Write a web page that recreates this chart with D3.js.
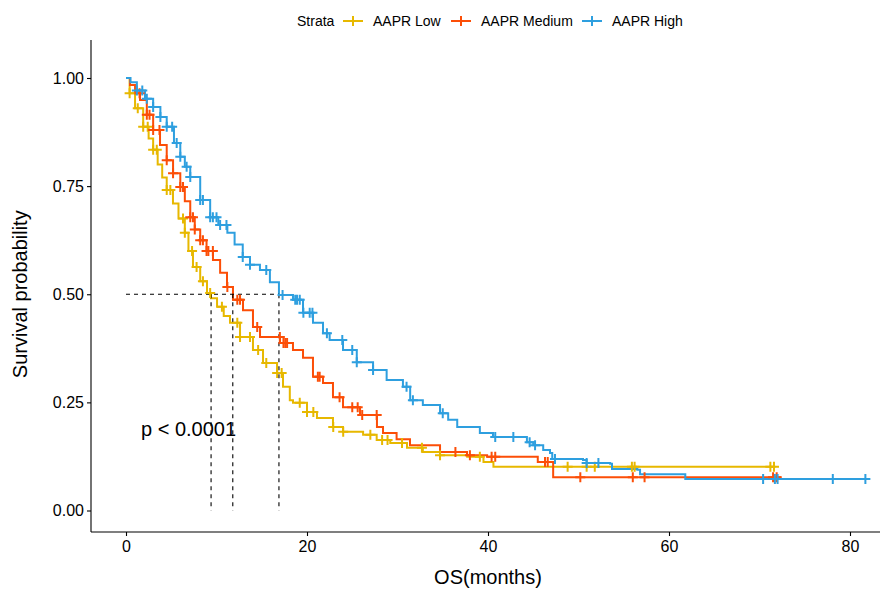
<!DOCTYPE html>
<html>
<head>
<meta charset="utf-8">
<script src="https://cdn.jsdelivr.net/npm/d3@7"></script>
<style>
  body { margin: 0; background: #fff; }
  svg { display: block; font-family: "Liberation Sans", Arial, sans-serif; }
</style>
</head>
<body>
<div id="chart"></div>
<script>
// KM curves: [time (months), survival]
var strata = ['AAPR Low', 'AAPR Medium', 'AAPR High']
var colors = ['#E7B800', '#FC4E07', '#2E9FDF']

var lowSteps = [[0,1],[0.4,0.965],[1.0,0.93],[1.9,0.887],[2.5,0.86],[3.0,0.834],[3.5,0.80],[4.0,0.77],[4.5,0.741],
  [5.19,0.71],[5.8,0.675],[6.5,0.642],[6.9,0.60],[7.4,0.563],[8.2,0.53],[8.95,0.503],[9.39,0.491],[10.06,0.471],
  [10.8,0.45],[11.49,0.434],[12.6,0.401],[14.03,0.371],[15.14,0.341],[16.69,0.318],[17.35,0.286],[18.1,0.255],[18.45,0.249],
  [20.0,0.228],[21.1,0.214],[22.87,0.193],[23.98,0.182],[26.2,0.175],[27.7,0.163],[29.2,0.156],[31.05,0.145],[32.8,0.135],
  [34.7,0.128],[37.7,0.124],[39.5,0.112],[40.6,0.101],[71.7,0.101]]
var lowCensor = [0.4,1.3,1.9,2.4,3.0,3.4,4.5,4.9,6.3,6.5,7.3,7.8,8.5,9.3,10.6,12.3,12.6,13.7,14.6,15.5,16.7,17.2,
  19.2,20.0,20.7,22.9,24.0,27.0,28.3,28.9,30.5,32.7,34.7,39.1,48.8,50.9,51.8,55.9,56.2,71.2,71.6]

var medSteps = [[0,1],[0.44,0.984],[1.0,0.965],[1.55,0.949],[2.3,0.915],[3.0,0.88],[3.76,0.845],[4.5,0.81],[5.2,0.78],
  [6.0,0.748],[6.5,0.715],[7.1,0.678],[7.6,0.65],[8.2,0.625],[8.9,0.60],[9.61,0.579],[10.4,0.55],[11.16,0.517],
  [11.82,0.487],[12.93,0.463],[14.03,0.424],[14.81,0.401],[17.02,0.387],[18.45,0.371],[19.56,0.353],[20.66,0.309],[21.77,0.295],
  [22.87,0.262],[23.98,0.239],[25.86,0.221],[27.73,0.193],[28.4,0.179],[29.9,0.165],[31.38,0.151],[34.7,0.135],[37.68,0.128],
  [39.9,0.124],[45.5,0.112],[47.2,0.077],[72.4,0.077]]
var medCensor = [1.5,2.3,2.6,3.0,3.7,4.5,5.2,6.0,6.3,7.1,7.4,7.6,8.2,8.5,8.9,9.1,9.6,11.2,12.3,12.6,14.5,17.0,17.4,17.6,17.8,
  21.2,21.4,23.6,25.0,25.6,26.1,27.7,36.4,38.0,40.4,40.8,46.3,46.6,50.2,56.0,57.3,71.5,71.9]

var highSteps = [[0,1],[0.5,0.99],[1.2,0.971],[2.1,0.952],[3.0,0.933],[3.8,0.91],[4.5,0.887],[5.3,0.85],[6.0,0.818],
  [6.5,0.795],[7.1,0.771],[8.2,0.718],[9.3,0.678],[10.2,0.66],[11.2,0.642],[12.0,0.615],[12.9,0.586],[13.7,0.568],
  [14.8,0.556],[15.9,0.528],[16.9,0.498],[18.45,0.487],[19.56,0.457],[20.66,0.434],[21.77,0.41],[22.5,0.394],[23.98,0.371],
  [25.5,0.343],[27.3,0.325],[28.8,0.302],[30.6,0.286],[31.4,0.255],[32.8,0.244],[34.7,0.225],[35.6,0.21],[36.6,0.193],
  [39.1,0.179],[40.55,0.17],[44.3,0.158],[45.0,0.151],[46.1,0.14],[46.85,0.133],[47.1,0.119],[50.5,0.117],[50.9,0.11],
  [53.5,0.108],[53.7,0.096],[56.5,0.094],[56.8,0.084],[61.8,0.073],[81.7,0.073]]
var highCensor = [1.2,1.8,2.3,3.0,3.8,4.5,5.1,5.6,6.0,6.7,7.1,8.2,8.5,9.3,9.6,10.0,10.4,11.1,12.9,13.7,15.5,17.3,18.7,18.9,
  19.2,19.6,20.3,20.6,22.2,23.9,25.0,25.5,27.3,31.0,31.7,35.0,40.8,42.8,44.6,45.2,47.4,50.9,52.2,70.4,71.7,72.0,78.1,81.7]

var medians = [9.4, 11.8, 16.9]
var xTicks = [0, 20, 40, 60, 80]
var yTicks = [0, 0.25, 0.5, 0.75, 1]
var pLabel = 'p < 0.0001'

var width = 880, height = 589
var svg = d3.select('#chart').append('svg').attr('width', width).attr('height', height)

var x = d3.scaleLinear().domain([0, 80]).range([126, 850])
var y = d3.scaleLinear().domain([0, 1]).range([510.5, 78])
var axisLeftX = 91, axisBottomY = 532

var survAt = function(steps, t) {
  var s = steps[0][1]
  steps.forEach(function(d) { if (d[0] <= t) s = d[1] })
  return s
}

// axes
var yAxis = svg.append('g').attr('transform', 'translate(' + axisLeftX + ',0)')
  .call(d3.axisLeft(y).tickValues(yTicks).tickFormat(d3.format('.2f')).tickSize(4).tickPadding(3))
var xAxis = svg.append('g').attr('transform', 'translate(0,' + axisBottomY + ')')
  .call(d3.axisBottom(x).tickValues(xTicks).tickFormat(d3.format('d')).tickSize(4).tickPadding(5))
yAxis.select('.domain').attr('d', 'M0,' + axisBottomY + 'V40')
xAxis.select('.domain').attr('d', 'M' + axisLeftX + ',0H' + width)
svg.selectAll('.tick text').attr('font-size', 16).attr('fill', '#000')
  .attr('font-family', '"Liberation Sans", Arial, sans-serif')
svg.selectAll('.domain, .tick line').attr('stroke', '#000').attr('stroke-width', 1.1)

svg.append('text').attr('x', 488).attr('y', 584).attr('text-anchor', 'middle')
  .attr('font-size', 20).text('OS(months)')
svg.append('text').attr('transform', 'translate(27,' + y(0.5) + ') rotate(-90)')
  .attr('text-anchor', 'middle').attr('font-size', 20).text('Survival probability')

// curves
var series = [lowSteps, medSteps, highSteps]
var censors = [lowCensor, medCensor, highCensor]
var line = d3.line().x(function(d) { return x(d[0]) }).y(function(d) { return y(d[1]) }).curve(d3.curveStepAfter)

series.forEach(function(steps, i) {
  svg.append('path').datum(steps).attr('d', line)
    .attr('fill', 'none').attr('stroke', colors[i]).attr('stroke-width', 2)
})

// median lines
var maxMed = d3.max(medians)
svg.append('line').attr('x1', x(0)).attr('x2', x(maxMed)).attr('y1', y(0.5)).attr('y2', y(0.5))
  .attr('stroke', '#000').attr('stroke-dasharray', '4,4').attr('stroke-width', 1.1)
svg.selectAll('.med').data(medians).enter().append('line')
  .attr('x1', function(d) { return x(d) }).attr('x2', function(d) { return x(d) })
  .attr('y1', y(0.5)).attr('y2', y(0))
  .attr('stroke', '#000').attr('stroke-dasharray', '4,4').attr('stroke-width', 1.1)

// censor marks
var plus = 'M-5,0H5M0,-5V5'
censors.forEach(function(list, i) {
  svg.selectAll('.c' + i).data(list).enter().append('path')
    .attr('transform', function(t) { return 'translate(' + x(t) + ',' + y(survAt(series[i], t)) + ')' })
    .attr('d', plus).attr('stroke', colors[i]).attr('stroke-width', 2)
})

svg.append('text').attr('x', 141).attr('y', 436).attr('font-size', 20).text(pLabel)

// legend
var legend = svg.append('g').attr('font-size', 14)
legend.append('text').attr('x', 297).attr('y', 26).text('Strata')
var keyX = [343, 451, 582]
strata.forEach(function(name, i) {
  var g = legend.append('g').attr('transform', 'translate(' + keyX[i] + ',21)')
  g.append('path').attr('d', 'M0,0H20M10,-5V5').attr('stroke', colors[i]).attr('stroke-width', 2)
  g.append('text').attr('x', 30).attr('y', 5).text(name)
})
</script>
</body>
</html>
